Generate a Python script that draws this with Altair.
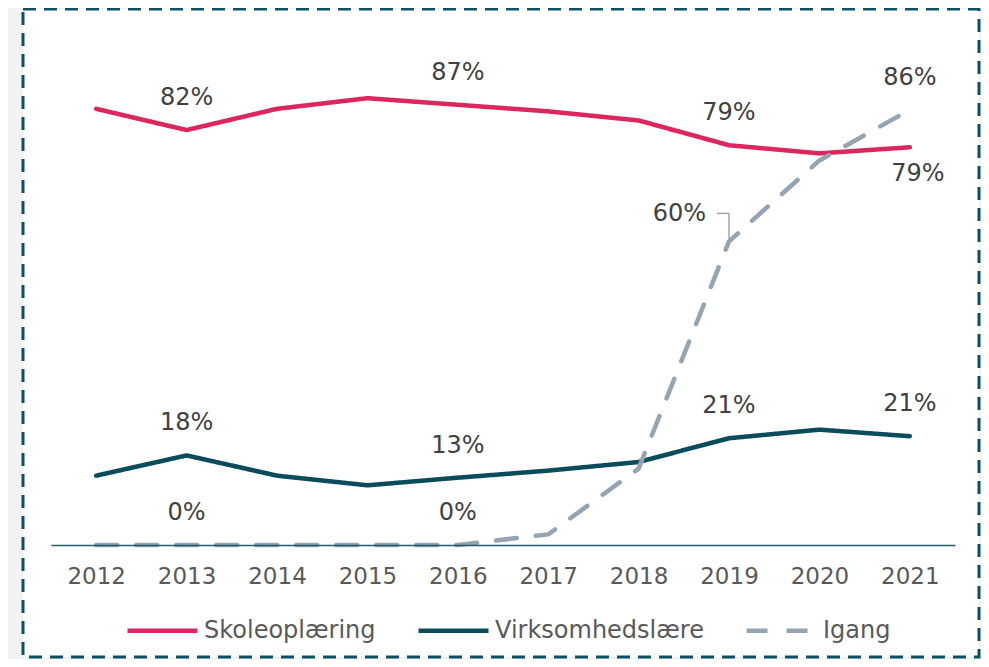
import altair as alt
import pandas as pd

years = ["2012", "2013", "2014", "2015", "2016", "2017", "2018", "2019", "2020", "2021"]
series_names = ["Skoleoplæring", "Virksomhedslære", "Igang"]
series_colors = ["#DC265E", "#0A4B5C", "#94A4B2"]
skole = [86.2, 82.0, 86.2, 88.3, 87.0, 85.7, 83.9, 79.0, 77.4, 78.6]
virk = [13.7, 17.7, 13.7, 11.8, 13.3, 14.7, 16.4, 21.1, 22.8, 21.5]
igang = [0.0, 0.0, 0.0, 0.0, 0.0, 2.1, 15.1, 60.0, 76.0, 86.0]

label_series = ["Skoleoplæring"] * 4 + ["Virksomhedslære"] * 4 + ["Igang"] * 4
label_years = ["2013", "2016", "2019", "2021"] * 3
label_texts = ["82%", "87%", "79%", "79%", "18%", "13%", "21%", "21%", "0%", "0%", "60%", "86%"]
label_pos = ["above", "above", "above", "below", "above", "above", "above", "above",
             "above", "above", "left", "above"]

rows = []
for name, vals in zip(series_names, [skole, virk, igang]):
    for y, v in zip(years, vals):
        rows.append({"series": name, "year": y, "value": v})
df = pd.DataFrame(rows)

lab = pd.DataFrame({"series": label_series, "year": label_years,
                    "text": label_texts, "pos": label_pos})
lab = lab.merge(df, on=["series", "year"], how="left")

FONT = "DejaVu Sans"

x_enc = alt.X("year:O", scale=alt.Scale(type="point", padding=0.5, domain=years),
              axis=alt.Axis(title=None, labelAngle=0, ticks=False, labelFont=FONT,
                            labelFontSize=23, labelColor="#595959", labelPadding=20,
                            domainColor="#1F5B6B", domainWidth=1.5, grid=False, zindex=1))
y_enc = alt.Y("value:Q", scale=alt.Scale(domain=[0, 100], nice=False, zero=True), axis=None)

leg = alt.Legend(title=None, orient="none", legendX=74, legendY=554, direction="horizontal",
                 symbolType="stroke", symbolSize=4900, symbolStrokeWidth=4.5,
                 labelFont=FONT, labelFontSize=24, labelColor="#595959", labelLimit=500,
                 labelOffset=4, columnPadding=33, padding=0)

frame = alt.Chart(pd.DataFrame({"f": [0]})).mark_rect(
    fill="white", stroke="#0E5063", strokeWidth=3, strokeDash=[13, 8]
).encode(x=alt.value(-28), x2=alt.value(928), y=alt.value(-30), y2=alt.value(618))

lines = alt.Chart(df).mark_line(strokeWidth=4.5, strokeCap="round", strokeJoin="round").encode(
    x=x_enc, y=y_enc,
    color=alt.Color("series:N", scale=alt.Scale(domain=series_names, range=series_colors), legend=leg),
    strokeDash=alt.StrokeDash("series:N", scale=alt.Scale(domain=series_names,
                                                          range=[[1, 0], [1, 0], [21, 19]]), legend=leg),
)

txt_kw = dict(font=FONT, fontSize=24, color="#404040", baseline="middle")
above = alt.Chart(lab).transform_filter(alt.datum.pos == "above").mark_text(dy=-32, **txt_kw).encode(
    x="year:O", y="value:Q", text="text:N")
below = alt.Chart(lab).transform_filter(alt.datum.pos == "below").mark_text(dy=27, dx=8, **txt_kw).encode(
    x="year:O", y="value:Q", text="text:N")
left = alt.Chart(lab).transform_filter(alt.datum.pos == "left").mark_text(
    dy=-27, dx=-23, align="right", **txt_kw).encode(x="year:O", y="value:Q", text="text:N")

lead_v = alt.Chart(lab).transform_filter(alt.datum.pos == "left").mark_rule(
    color="#A6A6A6", strokeWidth=1.5, yOffset=-2, y2Offset=-28).encode(
    x="year:O", y="value:Q", y2="value:Q")
lead_h = alt.Chart(lab).transform_filter(alt.datum.pos == "left").mark_rule(
    color="#A6A6A6", strokeWidth=1.5, xOffset=-12, x2Offset=0, yOffset=-28).encode(
    x="year:O", x2="year:O", y="value:Q")

chart = alt.layer(frame, lines, lead_v, lead_h, above, below, left).properties(
    width=904, height=506,
    autosize=alt.AutoSizeParams(type="none"),
    padding={"left": 43, "top": 31, "right": 26, "bottom": 114},
    background="#F2F2F2",
).configure_view(stroke=None)

chart.save("out.html", embed_options={"renderer": "svg", "actions": False})
